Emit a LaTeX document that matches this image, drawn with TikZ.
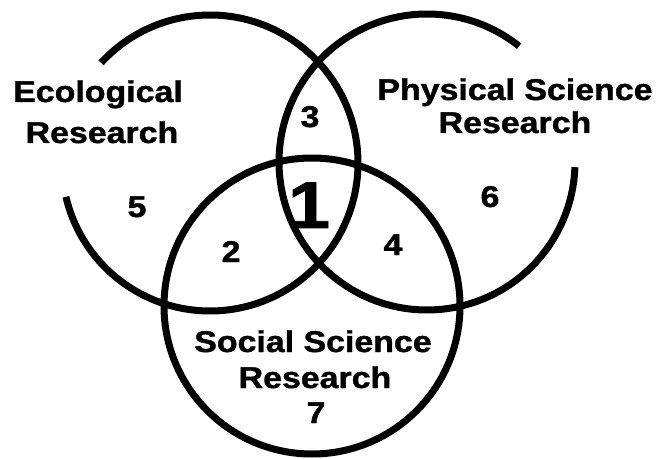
\documentclass[tikz,border=0pt]{standalone}
\usepackage{fontspec}
\setmainfont{Liberation Sans}[BoldFeatures={FakeBold=1.2}]
\begin{document}
\begin{tikzpicture}[x=1pt,y=1pt,
  ring/.style={line width=7pt,black,line cap=butt},
  lbl/.style={anchor=base,inner sep=0pt,font=\fontsize{30}{30}\selectfont\bfseries,xscale=1.13},
  big/.style={anchor=base,inner sep=0pt,font=\fontsize{66}{66}\selectfont\bfseries,xscale=1.15}]
\useasboundingbox (0,0) rectangle (668,458);
% circle centres
\coordinate (cl) at (210,295);
\coordinate (cr) at (427,296);
\coordinate (cb) at (312,152);
% ecological circle (gap on the left for its label)
\draw[ring] (cl) ++(137.4:148) arc[start angle=137.4,end angle=-166.8,radius=148];
% physical science circle (gap on the upper right)
\draw[ring] (cr) ++(51.5:148) arc[start angle=51.5,end angle=358,radius=148];
% social science circle
\draw[ring] (cb) circle[radius=148];
% labels
\node[lbl] (eco1) at (98,356) {Ecological};
\node[lbl] (eco2) at (102,315) {Research};
\node[lbl] (phy1) at (515,358) {Physical Science};
\node[lbl] (phy2) at (515,325) {Research};
\node[lbl] (soc1) at (313,106) {Social Science};
\node[lbl] (soc2) at (315,70) {Research};
% region numbers
\node[lbl] (n7) at (316,35) {7};
\node[lbl] (n3) at (310,331) {3};
\node[lbl] (n5) at (137,241) {5};
\node[big] (n1) at (309,230) {1};
\node[lbl] (n2) at (231,196) {2};
\node[lbl] (n4) at (393,203) {4};
\node[lbl] (n6) at (490,251) {6};
\end{tikzpicture}
\end{document}
